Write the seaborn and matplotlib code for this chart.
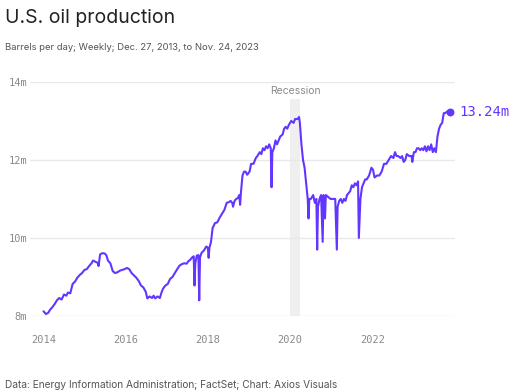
import pandas as pd
import seaborn as sns
import matplotlib.pyplot as plt
import matplotlib.dates as mdates

# weekly U.S. crude output (million barrels/day)
dates = [
    '2013-12-27', '2014-01-17', '2014-02-07', '2014-02-21', '2014-03-14', '2014-04-04',
    '2014-04-25', '2014-05-16', '2014-06-06', '2014-06-27', '2014-07-18', '2014-08-01',
    '2014-08-22', '2014-09-12', '2014-10-03', '2014-10-24', '2014-11-14', '2014-12-05',
    '2014-12-26', '2015-01-16', '2015-02-06', '2015-02-27', '2015-03-13', '2015-04-03',
    '2015-04-24', '2015-05-01', '2015-05-15', '2015-06-05', '2015-06-26', '2015-07-10',
    '2015-07-24', '2015-08-14', '2015-09-04', '2015-09-25', '2015-10-16', '2015-11-06',
    '2015-11-27', '2015-12-18', '2016-01-08', '2016-01-29', '2016-02-19', '2016-03-11',
    '2016-04-01', '2016-04-22', '2016-05-13', '2016-06-03', '2016-06-24', '2016-07-08',
    '2016-07-29', '2016-08-19', '2016-09-02', '2016-09-16', '2016-10-07', '2016-10-28',
    '2016-11-11', '2016-11-25', '2016-12-16', '2017-01-06', '2017-01-27', '2017-02-17',
    '2017-03-10', '2017-03-31', '2017-04-21', '2017-05-12', '2017-06-02', '2017-06-23',
    '2017-07-07', '2017-07-21', '2017-08-11', '2017-08-25', '2017-09-01', '2017-09-08',
    '2017-09-22', '2017-10-06', '2017-10-13', '2017-10-20', '2017-11-03', '2017-11-24',
    '2017-12-15', '2017-12-29', '2018-01-05', '2018-01-12', '2018-01-26', '2018-02-09',
    '2018-03-02', '2018-03-23', '2018-04-13', '2018-05-04', '2018-05-25', '2018-06-15',
    '2018-07-06', '2018-07-20', '2018-08-03', '2018-08-10', '2018-08-24', '2018-09-07',
    '2018-09-21', '2018-10-05', '2018-10-12', '2018-10-19', '2018-11-02', '2018-11-16',
    '2018-11-30', '2018-12-14', '2019-01-04', '2019-01-18', '2019-02-08', '2019-03-01',
    '2019-03-15', '2019-04-05', '2019-04-19', '2019-05-03', '2019-05-17', '2019-05-31',
    '2019-06-14', '2019-06-28', '2019-07-12', '2019-07-19', '2019-07-26', '2019-08-09',
    '2019-08-23', '2019-09-06', '2019-09-20', '2019-10-04', '2019-10-25', '2019-11-08',
    '2019-11-22', '2019-12-06', '2019-12-20', '2020-01-10', '2020-01-31', '2020-02-14',
    '2020-03-06', '2020-03-20', '2020-03-27', '2020-04-10', '2020-04-24', '2020-05-08',
    '2020-05-22', '2020-06-05', '2020-06-12', '2020-06-19', '2020-07-03', '2020-07-24',
    '2020-08-07', '2020-08-21', '2020-08-28', '2020-09-04', '2020-09-18', '2020-10-02',
    '2020-10-16', '2020-10-23', '2020-11-06', '2020-11-13', '2020-12-04', '2020-12-25',
    '2021-01-15', '2021-02-05', '2021-02-19', '2021-02-26', '2021-03-12', '2021-03-26',
    '2021-04-09', '2021-04-23', '2021-05-07', '2021-05-21', '2021-06-04', '2021-06-18',
    '2021-07-02', '2021-07-16', '2021-07-30', '2021-08-13', '2021-08-27', '2021-09-03',
    '2021-09-17', '2021-10-01', '2021-10-15', '2021-10-29', '2021-11-12', '2021-12-03',
    '2021-12-24', '2022-01-07', '2022-01-21', '2022-02-11', '2022-03-04', '2022-03-25',
    '2022-04-15', '2022-05-06', '2022-05-27', '2022-06-17', '2022-07-08', '2022-07-22',
    '2022-08-05', '2022-08-19', '2022-09-09', '2022-09-23', '2022-10-07', '2022-10-21',
    '2022-11-04', '2022-11-25', '2022-12-16', '2022-12-23', '2023-01-06', '2023-01-20',
    '2023-02-03', '2023-02-17', '2023-03-03', '2023-03-17', '2023-03-31', '2023-04-14',
    '2023-04-28', '2023-05-12', '2023-05-26', '2023-06-09', '2023-06-23', '2023-07-07',
    '2023-07-21', '2023-08-04', '2023-08-18', '2023-09-01', '2023-09-15', '2023-09-29',
    '2023-10-13', '2023-10-27', '2023-11-10', '2023-11-24',
]
production = [
    8.12, 8.05, 8.08, 8.15, 8.22, 8.30,
    8.40, 8.46, 8.42, 8.55, 8.52, 8.60,
    8.58, 8.82, 8.88, 8.98, 9.05, 9.10,
    9.18, 9.20, 9.28, 9.35, 9.42, 9.39,
    9.36, 9.28, 9.58, 9.61, 9.60, 9.55,
    9.42, 9.35, 9.15, 9.10, 9.12, 9.16,
    9.18, 9.20, 9.23, 9.20, 9.10, 9.04,
    8.98, 8.90, 8.78, 8.73, 8.62, 8.45,
    8.50, 8.46, 8.52, 8.45, 8.50, 8.46,
    8.60, 8.70, 8.78, 8.82, 8.95, 9.00,
    9.10, 9.20, 9.29, 9.33, 9.35, 9.34,
    9.40, 9.43, 9.50, 9.53, 8.78, 9.35,
    9.55, 9.56, 8.40, 9.50, 9.62, 9.68,
    9.78, 9.75, 9.49, 9.75, 9.90, 10.25,
    10.38, 10.40, 10.52, 10.62, 10.72, 10.90,
    10.92, 10.95, 10.90, 10.80, 10.95, 11.00,
    11.02, 11.10, 10.85, 11.15, 11.60, 11.70,
    11.70, 11.62, 11.70, 11.90, 11.90, 12.05,
    12.10, 12.20, 12.15, 12.30, 12.25, 12.35,
    12.30, 12.40, 12.30, 11.30, 12.20, 12.30,
    12.50, 12.40, 12.50, 12.60, 12.65, 12.80,
    12.85, 12.80, 12.90, 13.00, 12.95, 13.05,
    13.05, 13.10, 12.95, 12.40, 12.00, 11.80,
    11.40, 11.00, 10.50, 11.00, 11.00, 11.10,
    10.90, 11.00, 9.70, 10.80, 11.00, 11.10,
    9.90, 11.10, 10.50, 11.10, 11.05, 11.00,
    11.00, 11.00, 9.70, 10.80, 10.95, 11.00,
    10.90, 11.00, 10.95, 11.10, 11.15, 11.20,
    11.35, 11.30, 11.40, 11.35, 11.45, 10.00,
    11.00, 11.30, 11.40, 11.50, 11.50, 11.60,
    11.80, 11.75, 11.55, 11.60, 11.60, 11.70,
    11.90, 11.90, 12.00, 12.10, 12.05, 12.20,
    12.10, 12.10, 12.05, 12.10, 11.95, 12.00,
    12.15, 12.10, 12.10, 11.95, 12.20, 12.20,
    12.30, 12.30, 12.25, 12.30, 12.25, 12.35,
    12.22, 12.35, 12.25, 12.40, 12.20, 12.30,
    12.20, 12.60, 12.80, 12.90, 12.95, 13.20,
    13.20, 13.24, 13.24, 13.24,
]
recession = ['2020-01-01', '2020-04-01']
y_ticks = [8, 10, 12, 14]
x_years = [2014, 2016, 2018, 2020, 2022]

df = pd.DataFrame({'date': pd.to_datetime(dates), 'production': production})

sns.set_style('white')
plt.rcParams['font.family'] = ['Inter', 'DejaVu Sans']

purple = '#6236ff'
grey_txt = '#8a8a8a'
mono = 'DejaVu Sans Mono'

fig = plt.figure(figsize=(5.16, 3.92), dpi=100)
ax = fig.add_axes([0.058, 0.194, 0.824, 0.597])

ax.axvspan(pd.Timestamp(recession[0]), pd.Timestamp(recession[1]),
           ymin=0, ymax=0.925, color='#efefef', lw=0, zorder=0)
ax.text(pd.Timestamp('2020-02-15'), 13.77, 'Recession', ha='center', va='center',
        fontsize=7.5, color=grey_txt)

for v in y_ticks:
    ax.axhline(v, color='#e9e9e9', lw=1, zorder=1)

sns.lineplot(data=df, x='date', y='production', color=purple, lw=1.5, ax=ax, zorder=3)
last = df.iloc[-1]
ax.scatter([last['date']], [last['production']], s=22, color=purple, zorder=4)
ax.annotate(f"{last['production']:.2f}m", (last['date'], last['production']),
            xytext=(7, 0), textcoords='offset points', va='center', ha='left',
            fontsize=10, color=purple, family=mono, annotation_clip=False)

ax.set_xlim(pd.Timestamp('2013-08-28'), pd.Timestamp('2024-01-08'))
ax.set_ylim(8, 14)
ax.set_yticks(y_ticks)
ax.set_yticklabels([f'{v}m' for v in y_ticks])
ax.set_xticks([pd.Timestamp(f'{y}-01-01') for y in x_years])
ax.xaxis.set_major_formatter(mdates.DateFormatter('%Y'))
ax.tick_params(axis='y', length=0, pad=2, labelsize=7.5, labelcolor=grey_txt)
ax.tick_params(axis='x', length=10, width=0.8, color='#e2e2e2', pad=4,
               labelsize=7.5, labelcolor=grey_txt)
for lab in ax.get_xticklabels() + ax.get_yticklabels():
    lab.set_family(mono)
ax.set_xlabel('')
ax.set_ylabel('')
for s in ax.spines.values():
    s.set_visible(False)

fig.text(0.010, 0.955, 'U.S. oil production', fontsize=14, color='#222222', va='center')
fig.text(0.010, 0.880, 'Barrels per day; Weekly; Dec. 27, 2013, to Nov. 24, 2023',
         fontsize=6.8, color='#555555', va='center')
fig.text(0.010, 0.018, 'Data: Energy Information Administration; FactSet; Chart: Axios Visuals',
         fontsize=7.3, color='#555555', va='center')

fig.savefig('out.png', dpi=100)
